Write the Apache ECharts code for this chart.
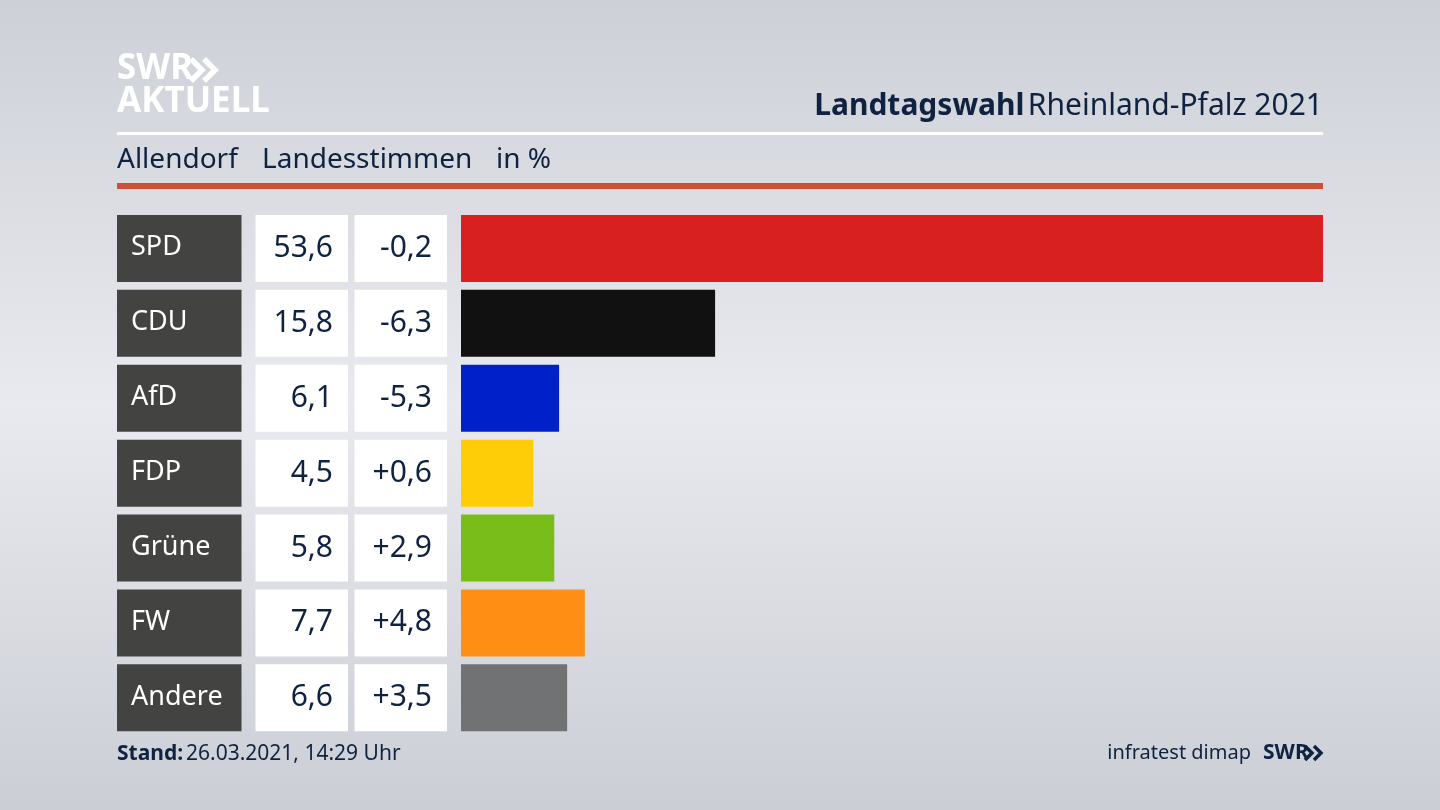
<!DOCTYPE html>
<html><head><meta charset="utf-8">
<style>html,body{margin:0;padding:0;width:1440px;height:810px;overflow:hidden}#c{width:1440px;height:810px}</style>
<script src="https://cdn.jsdelivr.net/npm/echarts@6/dist/echarts.min.js"></script>
</head><body><div id="c"></div>
<script>
const parties = ['SPD','CDU','AfD','FDP','Grüne','FW','Andere'];
const shares = [53.6,15.8,6.1,4.5,5.8,7.7,6.6];
const changes = [-0.2,-6.3,-5.3,0.6,2.9,4.8,3.5];
const colors = ['#d7201f','#111111','#0021c9','#ffcc08','#78bd19','#ff8f14','#717274'];
const navy = '#0f2240';
const font = '"Noto Sans"';
const fmt = v => v.toFixed(1).replace('.',',');
const fmtChange = v => (v>0?'+':'-') + fmt(Math.abs(v));
const chart = echarts.init(document.getElementById('c'),null,{renderer:'canvas'});
function txt(x,y,text,size,fill,align,weight){
  return {type:'text',x,y,silent:true,style:{text,fontFamily:font,fontSize:size,fontWeight:weight||'normal',fill,align:align||'left',verticalAlign:'middle'}};
}
function chev(x,y,h,w,lw,color){
  return {type:'polyline',silent:true,shape:{points:[[x,y],[x+w,y+h/2],[x,y+h]]},style:{stroke:color,lineWidth:lw,fill:null}};
}
chart.setOption({
  animation:false,
  backgroundColor:{type:'linear',x:0,y:0,x2:0,y2:1,colorStops:[
    {offset:0,color:'#cdd0d7'},{offset:0.5,color:'#e9eaef'},{offset:1,color:'#cbced5'}]},
  grid:{left:461,right:117,top:211,height:524.3,containLabel:false},
  xAxis:{type:'value',min:0,max:53.6,show:false},
  yAxis:{type:'category',inverse:true,data:parties,show:false},
  series:[
    {type:'bar',barWidth:67,data:shares.map((v,i)=>({value:v,itemStyle:{color:colors[i]}})),silent:true},
    {type:'custom',silent:true,clip:false,coordinateSystem:'cartesian2d',
     data:parties.map((p,i)=>[0,i]),
     encode:{x:0,y:1},
     renderItem(params,api){
       const i=api.value(1), y=api.coord([0,i])[1], top=y-33.5;
       return {type:'group',children:[
         {type:'rect',shape:{x:117,y:top,width:124.5,height:67},style:{fill:'#434341'}},
         {type:'rect',shape:{x:255.5,y:top,width:92.5,height:67},style:{fill:'#ffffff'}},
         {type:'rect',shape:{x:354.5,y:top,width:92.5,height:67},style:{fill:'#ffffff'}},
         {type:'text',x:131,y:y-1,style:{text:parties[i],fontFamily:font,fontSize:27,fill:'#ffffff',align:'left',verticalAlign:'middle'}},
         {type:'text',x:333,y:y,style:{text:fmt(shares[i]),fontFamily:font,fontSize:30,fill:navy,align:'right',verticalAlign:'middle'}},
         {type:'text',x:432,y:y,style:{text:fmtChange(changes[i]),fontFamily:font,fontSize:30,fill:navy,align:'right',verticalAlign:'middle'}}
       ]};
     }}
  ],
  graphic:[
    txt(117,69,'SWR',35,'#ffffff','left','bold'),
    chev(191,59,22,11,5.5,'#ffffff'),
    chev(204,59,22,11,5.5,'#ffffff'),
    txt(117,102,'AKTUELL',35,'#ffffff','left','bold'),
    {type:'text',x:1323,y:106,silent:true,style:{
      text:'{b|Landtagswahl} {r|Rheinland-Pfalz 2021}',align:'right',verticalAlign:'middle',
      rich:{b:{fontFamily:font,fontSize:30,fontWeight:'bold',fill:navy},r:{fontFamily:font,fontSize:30,fill:navy}}}},
    {type:'rect',silent:true,shape:{x:117,y:132,width:1206,height:3},style:{fill:'#ffffff'}},
    txt(117,160,'Allendorf',28,navy),
    txt(262,160,'Landesstimmen',28,navy),
    txt(496,160,'in %',28,navy),
    {type:'rect',silent:true,shape:{x:117,y:183,width:1206,height:6},style:{fill:'#cc5038'}},
    txt(117,754,'Stand:',21,navy,'left','bold'),
    txt(186,754,'26.03.2021, 14:29 Uhr',21,navy),
    txt(1251,753,'infratest dimap',20,navy,'right'),
    txt(1263,753,'SWR',21,navy,'left','bold'),
    chev(1305,746,14,7,3.5,navy),
    chev(1314,746,14,7,3.5,navy)
  ]
});
</script></body></html>
